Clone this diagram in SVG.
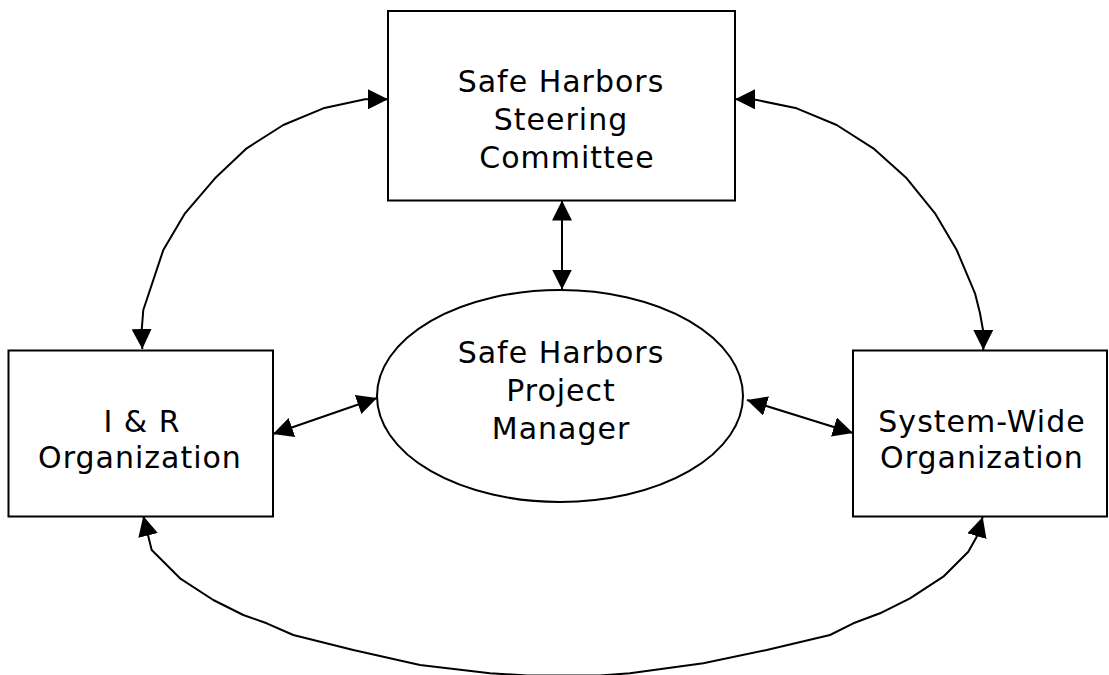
<svg xmlns="http://www.w3.org/2000/svg" width="1109" height="675" viewBox="0 0 1109 675">
<defs>
<style>
.box{fill:#fff;stroke:#000;stroke-width:2}
.lbl{font-family:"DejaVu Sans","Liberation Sans",sans-serif;font-size:30px;letter-spacing:1px;fill:#000;text-anchor:middle}
.con{fill:none;stroke:#000;stroke-width:2;stroke-linejoin:round;marker-start:url(#ah);marker-end:url(#ah)}
</style>
<marker id="ah" viewBox="0 0 20 20" refX="20" refY="10" markerWidth="20" markerHeight="20" markerUnits="userSpaceOnUse" orient="auto-start-reverse">
<path d="M0,0 L20,10 L0,20 z" fill="#000"/>
</marker>
</defs>
<rect width="1109" height="675" fill="#fff"/>
<g id="connectors">
<line class="con" x1="562" y1="200.5" x2="562" y2="289.5"/>
<line class="con" x1="273" y1="434" x2="377" y2="398"/>
<line class="con" x1="747" y1="400" x2="853" y2="433"/>
<path class="con" d="M142.3,349 L141.7,330 L143.3,310 L163.3,250 L185,213.3 L215,178.3 L246.7,148.3 L283.3,125 L323.3,108.3 L365,99.3 L388,99.3"/>
<path class="con" d="M735,99.3 L753.3,99.3 L796.7,108.3 L836.7,125 L873.3,148.3 L906.7,178.3 L935,213.3 L956.7,250 L975,293.3 L980,313.3 L983.3,331.7 L983.3,350"/>
<path class="con" d="M143.3,516 L151.7,550 L180,578.3 L213.3,600 L243.3,615 L266.7,623.3 L293.3,635 L353.3,650 L420,665 L490,673.3 L527,675.5 L600,675.5 L630,673.3 L703.3,663.3 L766.7,650 L830,635 L853.3,623.3 L880,613.3 L910,598.3 L943.3,576.7 L968.3,551.7 L976.7,536.7 L982.7,517"/>
</g>
<g id="steering">
<rect class="box" x="388" y="11" width="347" height="189.5"/>
<text class="lbl" x="561" y="92">Safe Harbors</text>
<text class="lbl" x="561" y="130">Steering</text>
<text class="lbl" x="567" y="168">Committee</text>
</g>
<g id="manager">
<ellipse class="box" cx="560" cy="396" rx="183" ry="106"/>
<text class="lbl" x="561" y="363">Safe Harbors</text>
<text class="lbl" x="561" y="401">Project</text>
<text class="lbl" x="561" y="439">Manager</text>
</g>
<g id="ir">
<rect class="box" x="8.5" y="350.5" width="264.5" height="166"/>
<text class="lbl" x="142" y="432">I &amp; R</text>
<text class="lbl" x="140" y="468">Organization</text>
</g>
<g id="systemwide">
<rect class="box" x="853" y="350.5" width="254" height="166"/>
<text class="lbl" x="982" y="432">System-Wide</text>
<text class="lbl" x="982" y="468">Organization</text>
</g>
</svg>
